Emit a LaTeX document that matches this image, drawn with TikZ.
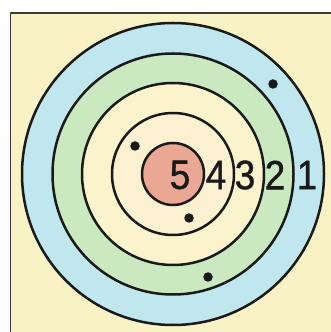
\documentclass[tikz,border=0pt]{standalone}
\usepackage{fontspec}
\setmainfont{Liberation Sans}
\newfontfamily\digitfont[FakeBold=1.0]{Liberation Sans}
\definecolor{bgyellow}{HTML}{F9F2C4}
\definecolor{ringblue}{HTML}{C0E6EE}
\definecolor{ringgreen}{HTML}{CAE9C0}
\definecolor{ringyellow}{HTML}{FAF3CC}
\definecolor{ringcream}{HTML}{FBF0D0}
\definecolor{bullpink}{HTML}{EAA794}
\definecolor{ink}{HTML}{1A1A1A}
\tikzset{
  ringline/.style={draw=ink, line width=2.5pt},
  framel/.style={draw=ink!85, line width=1.6pt},
  hole/.style={fill=ink, circle, inner sep=0pt, minimum size=9.5pt},
  score/.style={font=\digitfont\fontsize{41}{41}\selectfont, text=ink, inner sep=0pt, xscale=0.9, transform shape}
}
\begin{document}
\begin{tikzpicture}[x=1pt,y=1pt]
\useasboundingbox (0,0) rectangle (331,332);
\fill[white] (0,0) rectangle (331,332);
\fill[bgyellow] (10.5,0) rectangle (331,319);
\draw[framel] (10.5,0) -- (10.5,319) -- (331,319);
\coordinate (c) at (173,158);
\filldraw[ringline, fill=ringblue] (c) circle[radius=151];
\filldraw[ringline, fill=ringgreen] (c) circle[radius=120.5];
\filldraw[ringline, fill=ringyellow] (c) circle[radius=91];
\filldraw[ringline, fill=ringcream] (c) circle[radius=61];
\filldraw[ringline, fill=bullpink] (c) circle[radius=31];
\node[score] (s5) at (180,157) {5};
\node[score] (s4) at (216,157) {4};
\node[score] (s3) at (245,157) {3};
\node[score] (s2) at (275,157) {2};
\node[score] (s1) at (307,157) {1};
\node[hole] (h1) at (273,248) {};
\node[hole] (h2) at (135,186) {};
\node[hole] (h3) at (189,114) {};
\node[hole] (h4) at (208,55) {};
\end{tikzpicture}
\end{document}
